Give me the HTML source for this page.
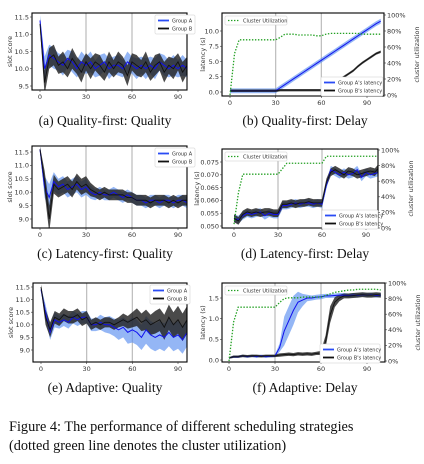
<!DOCTYPE html>
<html><head><meta charset="utf-8"><style>
body{margin:0;background:#fff;width:424px;height:464px;overflow:hidden}
svg{display:block}
.tk{font-family:"DejaVu Sans","Liberation Sans",sans-serif;font-size:6.5px;fill:#333}
.lg{font-family:"DejaVu Sans","Liberation Sans",sans-serif;font-size:5px;fill:#333}
.cap{font-family:"Liberation Serif",serif;font-size:13.5px;fill:#111}
</style></head><body>
<svg id="fig" width="424" height="464" viewBox="0 0 424 464">
<text class="cap" x="105" y="125" text-anchor="middle">(a) Quality-first: Quality</text>
<text class="cap" x="305" y="125" text-anchor="middle">(b) Quality-first: Delay</text>
<text class="cap" x="105" y="258" text-anchor="middle">(c) Latency-first: Quality</text>
<text class="cap" x="305" y="258" text-anchor="middle">(d) Latency-first: Delay</text>
<text class="cap" x="105" y="392" text-anchor="middle">(e) Adaptive: Quality</text>
<text class="cap" x="305" y="392" text-anchor="middle">(f) Adaptive: Delay</text>
<text class="cap" x="9" y="431" style="font-size:14.3px">Figure 4: The performance of different scheduling strategies</text>
<text class="cap" x="9" y="450" style="font-size:14.3px">(dotted green line denotes the cluster utilization)</text>
</svg>
<script>
// x positions are index*3 (0..99)
const xTicks=[0,30,60,90];
// (a) quality-first quality
const aA=[11.4,10.0,10.4,10.3,10.2,10.1,10.3,10.2,10.0,10.2,10.1,10.2,10.0,10.1,10.2,10.0,10.1,10.1,10.0,10.2,10.1,10.0,10.1,10.0,10.1,10.0,10.2,10.1,10.0,10.1,10.0,10.1,10.0,10.2];
const aB=[11.3,9.6,10.3,10.4,10.1,10.2,10.0,10.3,10.1,9.9,10.2,10.0,10.2,10.1,9.9,10.2,10.0,10.2,10.1,9.8,10.2,10.1,10.0,10.2,9.9,10.1,10.2,9.9,10.1,10.0,10.2,9.9,10.1,10.0];
const aBand=[0.15,0.35,0.3,0.3,0.25,0.3,0.25,0.3,0.25,0.3,0.25,0.3,0.25,0.3,0.25,0.3,0.25,0.3,0.25,0.3,0.25,0.3,0.25,0.3,0.25,0.3,0.25,0.3,0.25,0.3,0.25,0.3,0.25,0.3];
const aYTicks=[9.5,10.0,10.5,11.0,11.5];
// (b) quality-first delay
const bA=[0.2,0.2,0.2,0.2,0.2,0.2,0.2,0.2,0.2,0.2,0.2,0.7,1.2,1.7,2.2,2.7,3.2,3.7,4.2,4.7,5.2,5.7,6.2,6.7,7.2,7.7,8.2,8.7,9.2,9.7,10.2,10.7,11.2,11.6];
const bB=[0.2,0.2,0.2,0.2,0.2,0.2,0.2,0.2,0.2,0.2,0.2,0.3,0.3,0.3,0.3,0.3,0.3,0.3,0.3,0.3,0.3,0.5,1.0,1.5,2.0,2.5,3.0,3.5,4.2,4.8,5.3,5.8,6.3,6.6];
const bBandA=0.4, bBandB=0.2;
const bUtil=[0,52,69,69,69,69,69,69,69,69,69,72,76,76,76,75,75,75,75,74,74,76,77,77,77,77,77,77,77,76,76,76,76,76];
const bYTicks=[0.0,2.5,5.0,7.5,10.0];
// (c) latency-first quality
const cA=[11.6,10.2,9.8,10.4,10.2,10.3,10.1,10.2,10.3,10.1,10.2,10.0,9.9,10.0,9.9,9.9,10.0,9.9,9.8,9.9,9.8,9.7,9.7,9.6,9.7,9.7,9.6,9.7,9.7,9.6,9.7,9.7,9.6,9.7];
const cB=[11.6,10.4,9.0,10.3,10.1,10.2,10.3,10.1,10.4,10.2,10.3,10.1,10.0,9.9,10.0,9.9,9.9,9.9,9.9,9.8,9.8,9.7,9.7,9.7,9.6,9.7,9.7,9.7,9.6,9.7,9.6,9.7,9.7,9.8];
const cBand=[0.1,0.4,0.5,0.35,0.3,0.3,0.3,0.3,0.3,0.3,0.3,0.25,0.2,0.2,0.2,0.2,0.2,0.2,0.2,0.2,0.2,0.2,0.2,0.2,0.2,0.2,0.2,0.2,0.2,0.2,0.2,0.2,0.2,0.2];
const cYTicks=[9.0,9.5,10.0,10.5,11.0,11.5];
// (d) latency-first delay
const dA=[0.053,0.0525,0.054,0.055,0.0545,0.055,0.0555,0.054,0.055,0.0545,0.0545,0.058,0.058,0.0585,0.059,0.0585,0.059,0.059,0.0585,0.059,0.0585,0.066,0.072,0.071,0.070,0.071,0.070,0.0705,0.072,0.069,0.071,0.070,0.0705,0.071];
const dB=[0.053,0.052,0.0545,0.0555,0.055,0.0555,0.055,0.0555,0.0555,0.055,0.055,0.0585,0.0585,0.059,0.0585,0.059,0.059,0.0595,0.059,0.059,0.059,0.067,0.071,0.072,0.071,0.070,0.0715,0.071,0.070,0.0705,0.071,0.0715,0.071,0.073];
const dBand=0.0015;
const dUtil=[5,45,69,69,69,69,69,69,69,69,69,76,83,83,83,83,83,83,83,83,83,92,92,92,92,92,92,92,92,92,92,92,92,92];
const dYTicks=[0.050,0.055,0.060,0.065,0.070,0.075];
// (e) adaptive quality
const eA=[11.4,10.5,9.7,10.2,10.1,10.2,10.1,10.3,10.2,10.3,10.3,10.0,10.0,10.1,10.0,10.0,9.9,9.8,9.9,9.7,9.8,9.7,9.5,9.8,9.6,9.5,9.6,9.5,9.7,9.5,9.6,9.4,9.7,9.8];
const eB=[11.5,10.3,9.8,10.3,10.2,10.4,10.3,10.3,10.4,10.2,10.3,10.0,10.1,10.0,10.1,10.1,10.0,10.1,10.2,10.1,10.2,10.3,10.1,10.2,10.0,10.1,10.2,9.9,10.3,10.0,10.2,9.9,10.2,10.1];
const eBandA=[0.1,0.3,0.3,0.3,0.25,0.25,0.25,0.25,0.25,0.25,0.25,0.25,0.25,0.3,0.3,0.35,0.35,0.4,0.4,0.45,0.5,0.5,0.5,0.55,0.55,0.55,0.55,0.55,0.55,0.55,0.55,0.55,0.55,0.5];
const eBandB=[0.1,0.3,0.3,0.25,0.25,0.25,0.25,0.25,0.25,0.25,0.25,0.2,0.2,0.2,0.2,0.2,0.2,0.2,0.25,0.25,0.3,0.35,0.35,0.4,0.4,0.45,0.45,0.5,0.5,0.5,0.55,0.55,0.55,0.5];
const eYTicks=[9.0,9.5,10.0,10.5,11.0,11.5];
// (f) adaptive delay
const fA=[0.05,0.08,0.08,0.1,0.08,0.1,0.08,0.1,0.08,0.09,0.1,0.3,0.7,0.95,1.2,1.4,1.45,1.5,1.5,1.52,1.53,1.55,1.55,1.56,1.57,1.57,1.56,1.57,1.56,1.58,1.57,1.58,1.56,1.57];
const fB=[0.05,0.08,0.08,0.1,0.09,0.1,0.1,0.09,0.1,0.1,0.1,0.12,0.13,0.14,0.13,0.15,0.14,0.15,0.14,0.16,0.17,0.45,1.1,1.4,1.5,1.55,1.55,1.56,1.57,1.58,1.57,1.57,1.58,1.57];
const fBandA=[0.02,0.03,0.03,0.03,0.03,0.03,0.03,0.03,0.03,0.03,0.03,0.1,0.35,0.35,0.35,0.25,0.15,0.08,0.06,0.06,0.06,0.05,0.05,0.05,0.05,0.05,0.05,0.05,0.05,0.05,0.05,0.05,0.05,0.05];
const fBandB=[0.02,0.03,0.03,0.03,0.03,0.03,0.03,0.03,0.03,0.03,0.03,0.04,0.04,0.04,0.04,0.04,0.04,0.04,0.04,0.04,0.05,0.15,0.2,0.12,0.08,0.06,0.06,0.06,0.06,0.06,0.06,0.06,0.06,0.06];
const fUtil=[0,50,69,69,69,69,69,69,69,69,69,75,80,81,81,81,82,82,82,82,82,84,86,88,89,90,91,91,92,92,92,92,92,91];
const fYTicks=[0.0,0.5,1.0,1.5];
const utilTicks=[0,20,40,60,80,100];

const NS='http://www.w3.org/2000/svg';
const svg=document.getElementById('fig');
function mk(tag,attrs,parent){const e=document.createElementNS(NS,tag);for(const k in attrs)e.setAttribute(k,attrs[k]);(parent||svg).appendChild(e);return e;}
function lin(d0,d1,p0,p1){return v=>p0+(v-d0)*(p1-p0)/(d1-d0);}
function fmt(v,dec){return v.toFixed(dec);}

function panel(c){
  const g=mk('g',{});
  
  
  const sx=lin(0,90,c.x0,c.x90), sy=lin(c.yd0,c.yd1,c.yp0,c.yp1);
  const clipId='clip-'+c.name;
  const cp=mk('clipPath',{id:clipId},g);mk('rect',{x:c.bx,y:c.by,width:c.bw,height:c.bh},cp);
  const pg=mk('g',{'clip-path':'url(#'+clipId+')'},g);
  [30,60].forEach(v=>{const l=mk('line',{x1:sx(v),x2:sx(v),y1:c.by,y2:c.by+c.bh,stroke:'#bbb','stroke-width':1.2},pg);
    
    });
  function band(mean,w,fill,op,nm){
    let up=[],dn=[];
    mean.forEach((m,i)=>{const ww=Array.isArray(w)?w[i]:w;up.push(sx(i*3)+','+sy(m+ww));dn.unshift(sx(i*3)+','+sy(m-ww));});
    const p=mk('polygon',{points:up.concat(dn).join(' '),fill:fill,'fill-opacity':op},pg);
    
    
  }
  function line(arr,scale,stroke,sw,dash,nm){
    const p=mk('polyline',{points:arr.map((m,i)=>sx(i*3)+','+scale(m)).join(' '),fill:'none',stroke:stroke,'stroke-width':sw,'stroke-dasharray':dash||'none'},pg);
    
    
  }
  band(c.A,c.wA,'#5a8ff0',0.65,'band-group-a');
  band(c.B,c.wB,'#222',0.82,'band-group-b');
  line(c.A,sy,'#1010ee',1,null,'line-group-a');
  line(c.B,sy,'#111',0.9,null,'line-group-b');
  let su=null;
  if(c.util){su=lin(0,100,c.up0,c.up100);line(c.util,su,'#22a022',1.3,'1.4,1.6','line-cluster-utilization');}
  const fr=mk('rect',{x:c.bx,y:c.by,width:c.bw,height:c.bh,fill:'none',stroke:'#000','stroke-width':1.1},g);
  
  
  xTicks.forEach(v=>{mk('line',{x1:sx(v),x2:sx(v),y1:c.by+c.bh,y2:c.by+c.bh+2,stroke:'#333','stroke-width':0.6},g);
    const t=mk('text',{x:sx(v),y:c.by+c.bh+9,'text-anchor':'middle',class:'tk'},g);t.textContent=v;
    
    });
  c.yTicks.forEach(v=>{mk('line',{x1:c.bx-2,x2:c.bx,y1:sy(v),y2:sy(v),stroke:'#333','stroke-width':0.6},g);
    const t=mk('text',{x:c.bx-3,y:sy(v)+2.3,'text-anchor':'end',class:'tk'},g);t.textContent=fmt(v,c.dec);
    
    });
  const yl=mk('text',{x:c.ylx,y:c.by+c.bh/2,'text-anchor':'middle',class:'tk',transform:'rotate(-90 '+c.ylx+' '+(c.by+c.bh/2)+')'},g);
  yl.textContent=c.ylabel;
  
  
  if(su){
    utilTicks.forEach(v=>{mk('line',{x1:c.bx+c.bw,x2:c.bx+c.bw+2,y1:su(v),y2:su(v),stroke:'#333','stroke-width':0.6},g);
      const t=mk('text',{x:c.bx+c.bw+3,y:su(v)+2.3,class:'tk'},g);t.textContent=v+'%';
      
      });
    const rx=c.bx+c.bw+35, ry=c.by+c.bh/2;
    const rl=mk('text',{x:rx,y:ry,'text-anchor':'middle',class:'tk',transform:'rotate(-90 '+rx+' '+ry+')'},g);
    rl.textContent='cluster utilization';
    
    
    const lg=mk('g',{},g);
    
    
    mk('rect',{x:c.bx+3,y:c.by+3,width:62,height:9,fill:'#fff',stroke:'#ccc','stroke-width':0.5,rx:1},lg);
    mk('line',{x1:c.bx+6,x2:c.bx+18,y1:c.by+7.5,y2:c.by+7.5,stroke:'#22a022','stroke-width':1.3,'stroke-dasharray':'1.4,1.6'},lg);
    const lt=mk('text',{x:c.bx+21,y:c.by+9.3,class:'lg'},lg);lt.textContent='Cluster Utilization';
  }
  const L=c.leg;
  const lg=mk('g',{},g);
  
  
  mk('rect',{x:L.x,y:L.y,width:L.w,height:19,fill:'#fff',stroke:'#ccc','stroke-width':0.5,rx:1},lg);
  [['#2a4cf5',c.labels[0]],['#111',c.labels[1]]].forEach((s,i)=>{
    mk('line',{x1:L.x+3,x2:L.x+14,y1:L.y+5.5+i*8,y2:L.y+5.5+i*8,stroke:s[0],'stroke-width':1.8},lg);
    const t=mk('text',{x:L.x+17,y:L.y+7.3+i*8,class:'lg'},lg);t.textContent=s[1];
    
    
  });
}
const qL=['Group A','Group B'], dL=["Group A's latency","Group B's latency"];
panel({name:'panel-a',bx:32,by:13,bw:155,bh:77,x0:40,x90:178,yd0:9.5,yd1:11.5,yp0:86,yp1:17,yTicks:aYTicks,dec:1,A:aA,B:aB,wA:aBand,wB:aBand,ylabel:'slot score',ylx:12,leg:{x:155,y:15,w:40},labels:qL});
panel({name:'panel-b',bx:222,by:13,bw:162,bh:83,x0:230,x90:367,yd0:0,yd1:10,yp0:92,yp1:31,yTicks:bYTicks,dec:1,A:bA,B:bB,wA:bBandA,wB:bBandB,util:bUtil,up0:95,up100:15,ylabel:'latency (s)',ylx:205,leg:{x:321,y:77,w:62},labels:dL});
panel({name:'panel-c',bx:32,by:146,bw:155,bh:82,x0:40,x90:178,yd0:9.0,yd1:11.5,yp0:219,yp1:152,yTicks:cYTicks,dec:1,A:cA,B:cB,wA:cBand,wB:cBand,ylabel:'slot score',ylx:12,leg:{x:155,y:148,w:40},labels:qL});
panel({name:'panel-d',bx:222,by:149,bw:156,bh:79,x0:234,x90:366,yd0:0.05,yd1:0.075,yp0:226,yp1:162,yTicks:dYTicks,dec:3,A:dA,B:dB,wA:dBand,wB:dBand,util:dUtil,up0:228,up100:150,ylabel:'latency (s)',ylx:199,leg:{x:322,y:210,w:56},labels:dL});
panel({name:'panel-e',bx:33,by:283,bw:154,bh:79,x0:41,x90:178,yd0:9.0,yd1:11.5,yp0:350,yp1:287,yTicks:eYTicks,dec:1,A:eA,B:eB,wA:eBandA,wB:eBandB,ylabel:'slot score',ylx:13,leg:{x:150,y:285,w:40},labels:qL});
panel({name:'panel-f',bx:222,by:283,bw:163,bh:79,x0:229,x90:367,yd0:0,yd1:1.5,yp0:360,yp1:298,yTicks:fYTicks,dec:1,A:fA,B:fB,wA:fBandA,wB:fBandB,util:fUtil,up0:361,up100:283,ylabel:'latency (s)',ylx:205,leg:{x:320,y:344,w:60},labels:dL});
</script>
</body></html>
